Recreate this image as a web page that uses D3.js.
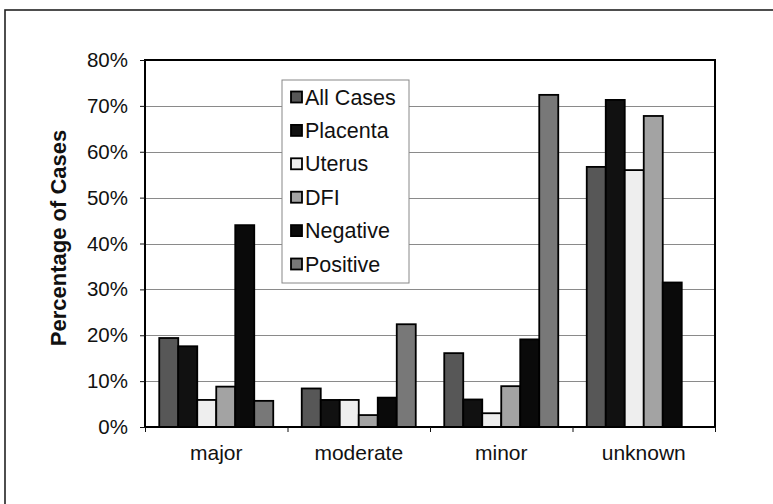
<!DOCTYPE html>
<html>
<head>
<meta charset="utf-8">
<script src="https://d3js.org/d3.v7.min.js"></script>
<style>
    body {
        margin: 0;
        background-color: #ffffff;
    }
    svg text {
        font-family: "Liberation Sans", Arial, sans-serif;
        fill: #111;
    }
    .axis path,
    .axis line {
        stroke: #111;
    }
    .grid line {
        stroke: #8a8a8a;
        stroke-width: 1px;
        shape-rendering: crispEdges;
    }
</style>
</head>
<body>
<svg width="773" height="504"></svg>
<script>
    // data
    var categories = ["major", "moderate", "minor", "unknown"];
    var seriesNames = ["All Cases", "Placenta", "Uterus", "DFI", "Negative", "Positive"];
    var allCases = [0.194, 0.084, 0.161, 0.567];
    var placenta = [0.176, 0.059, 0.060, 0.713];
    var uterus   = [0.059, 0.059, 0.030, 0.560];
    var dfi      = [0.088, 0.026, 0.089, 0.678];
    var negative = [0.440, 0.064, 0.191, 0.315];
    var positive = [0.057, 0.224, 0.724, 0];
    var yTicks = [0, 0.1, 0.2, 0.3, 0.4, 0.5, 0.6, 0.7, 0.8];

    var seriesValues = [allCases, placenta, uterus, dfi, negative, positive];
    var fills = ["#575757", "#111111", "#eeeeee", "#a3a3a3", "#0a0a0a", "#787878"];

    var svg = d3.select("svg"),
        margin = {top: 60, right: 58, bottom: 77, left: 145},
        width = +svg.attr("width") - margin.left - margin.right,
        height = +svg.attr("height") - margin.top - margin.bottom;

    // outer chart frame (runs off the right and bottom edge)
    svg.append("rect")
        .attr("x", 5).attr("y", 10)
        .attr("width", 800).attr("height", 520)
        .attr("fill", "none")
        .attr("stroke", "#222")
        .attr("stroke-width", 1.6);

    var g = svg.append("g")
        .attr("transform", "translate(" + margin.left + "," + margin.top + ")");

    var x0 = d3.scaleBand().domain(categories).range([0, width]).padding(0);
    var x1 = d3.scaleBand().domain(seriesNames).range([0, x0.bandwidth()])
        .paddingInner(0).paddingOuter(0.75);
    var y = d3.scaleLinear().domain([0, 0.8]).range([height, 0]);

    // gridlines
    g.append("g")
        .attr("class", "grid")
        .selectAll("line")
        .data(yTicks.slice(1))
        .enter().append("line")
        .attr("x1", 0).attr("x2", width)
        .attr("y1", function (d) { return Math.round(y(d)) + 0.5; })
        .attr("y2", function (d) { return Math.round(y(d)) + 0.5; });

    // bars
    var table = [];
    categories.forEach(function (c, i) {
        seriesNames.forEach(function (s, j) {
            table.push({cat: c, series: s, idx: j, value: seriesValues[j][i]});
        });
    });

    g.selectAll(".bar")
        .data(table.filter(function (d) { return d.value > 0; }))
        .enter().append("rect")
        .attr("class", "bar")
        .attr("x", function (d) { return x0(d.cat) + x1(d.series); })
        .attr("y", function (d) { return y(d.value); })
        .attr("width", x1.bandwidth())
        .attr("height", function (d) { return height - y(d.value); })
        .attr("fill", function (d) { return fills[d.idx]; })
        .attr("stroke", "#000")
        .attr("stroke-width", 1.8);

    // plot border
    g.append("rect")
        .attr("width", width).attr("height", height)
        .attr("fill", "none")
        .attr("stroke", "#000")
        .attr("stroke-width", 2);

    // y axis
    var yAxis = g.append("g")
        .attr("class", "y axis")
        .call(d3.axisLeft(y).tickValues(yTicks).tickFormat(d3.format(".0%"))
            .tickSize(5).tickSizeOuter(0).tickPadding(12));
    yAxis.select(".domain").remove();
    yAxis.selectAll("text").style("font-size", "20.5px");

    // x axis: tick marks on category boundaries, labels centred
    var xb = d3.scaleLinear().domain([0, categories.length]).range([0, width]);
    var xTickAxis = g.append("g")
        .attr("class", "x axis")
        .attr("transform", "translate(0," + height + ")")
        .call(d3.axisBottom(xb).ticks(categories.length).tickSize(5).tickFormat(""));
    xTickAxis.select(".domain").remove();

    var xLab = g.append("g")
        .attr("class", "x axis")
        .attr("transform", "translate(0," + height + ")")
        .call(d3.axisBottom(x0).tickSize(0).tickPadding(18));
    xLab.select(".domain").remove();
    xLab.selectAll("text").style("font-size", "21px");

    // y title
    svg.append("text")
        .attr("transform", "translate(66,238) rotate(-90)")
        .attr("text-anchor", "middle")
        .style("font-size", "22px")
        .style("font-weight", "bold")
        .text("Percentage of Cases");

    // legend
    var legend = svg.append("g").attr("transform", "translate(282,80)");
    legend.append("rect")
        .attr("width", 127).attr("height", 203)
        .attr("fill", "#fff")
        .attr("stroke", "#888")
        .attr("stroke-width", 1);

    var item = legend.selectAll(".item")
        .data(seriesNames)
        .enter().append("g")
        .attr("class", "item")
        .attr("transform", function (d, i) { return "translate(0," + (17 + i * 33.4) + ")"; });

    item.append("rect")
        .attr("x", 9).attr("y", -5.5)
        .attr("width", 11).attr("height", 11)
        .attr("fill", function (d, i) { return fills[i]; })
        .attr("stroke", "#000")
        .attr("stroke-width", 1.8);

    item.append("text")
        .attr("x", 23)
        .attr("dy", "0.35em")
        .style("font-size", "21.5px")
        .text(function (d) { return d; });
</script>
</body>
</html>
